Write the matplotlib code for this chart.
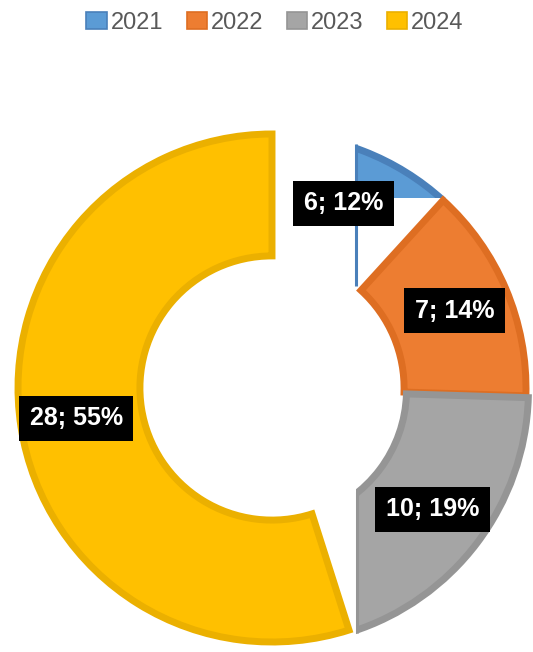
import numpy as np
import matplotlib.pyplot as plt
from matplotlib.patches import Rectangle, Patch

years = ["2021", "2022", "2023", "2024"]
counts = [6, 7, 10, 28]
shares = [12, 14, 19, 55]  # percent as printed on the chart

fills = ["#5B9BD5", "#ED7D31", "#A5A5A5", "#FFC000"]
edges = ["#4A80BA", "#DE6E22", "#959595", "#EBB000"]

plt.rcParams["font.family"] = ["Liberation Sans", "DejaVu Sans"]

fig = plt.figure(figsize=(5.33, 6.52), dpi=100)
ax = fig.add_axes([0, 0, 1, 1])

ring = 0.48
wedges, _, autotexts = ax.pie(
    counts, startangle=90, counterclock=False, colors=fills, radius=1.0,
    explode=[0, 0, 0.012, 0],
    wedgeprops=dict(width=ring, linewidth=5.0),
    autopct="%1.0f%%", pctdistance=0.78,
    textprops=dict(color="white", fontsize=18, fontweight="bold"))

for w, ec in zip(wedges, edges):
    w.set_edgecolor(ec)

for t, n, p in zip(autotexts, counts, shares):
    t.set_text(f"{n}; {p}%")
    t.set_bbox(dict(boxstyle="square,pad=0.42", facecolor="black", edgecolor="none"))
    t.set_zorder(5)

# the right-hand slices are cut off by a vertical band left of them
x0 = 0.33
y_cut = 0.75
right_clip = Rectangle((x0, -3), 4, 6, transform=ax.transData)
blue_clip = Rectangle((x0, y_cut), 4, 3, transform=ax.transData)
for w, clip in zip(wedges[:3], [blue_clip, right_clip, right_clip]):
    w.set_clip_on(True)
    w.set_clip_path(clip)

r_in = 1 - ring
r_out = 1.016
ax.vlines(x0, np.sqrt(r_in**2 - x0**2), np.sqrt(r_out**2 - x0**2),
          color=edges[0], lw=2.2, zorder=3)
ax.vlines(x0 + 0.004, -np.sqrt(r_out**2 - x0**2) - 0.005, -np.sqrt(r_in**2 - x0**2) - 0.008,
          color=edges[2], lw=2.2, zorder=3)

ax.set_xlim(-272 / 254, 261 / 254)
ax.set_ylim(-(652 - 388) / 254, 388 / 254)
ax.set_aspect("auto")
ax.axis("off")

handles = [Patch(facecolor=f, edgecolor=e, linewidth=1.2) for f, e in zip(fills, edges)]
fig.legend(handles, years, loc="center", bbox_to_anchor=(0.516, 1 - 23 / 652),
           ncol=4, frameon=False, fontsize=17, labelcolor="#595959",
           handlelength=0.85, handleheight=0.76, handletextpad=0.17,
           columnspacing=1.0, borderaxespad=0)

fig.savefig("out.png", dpi=100)
